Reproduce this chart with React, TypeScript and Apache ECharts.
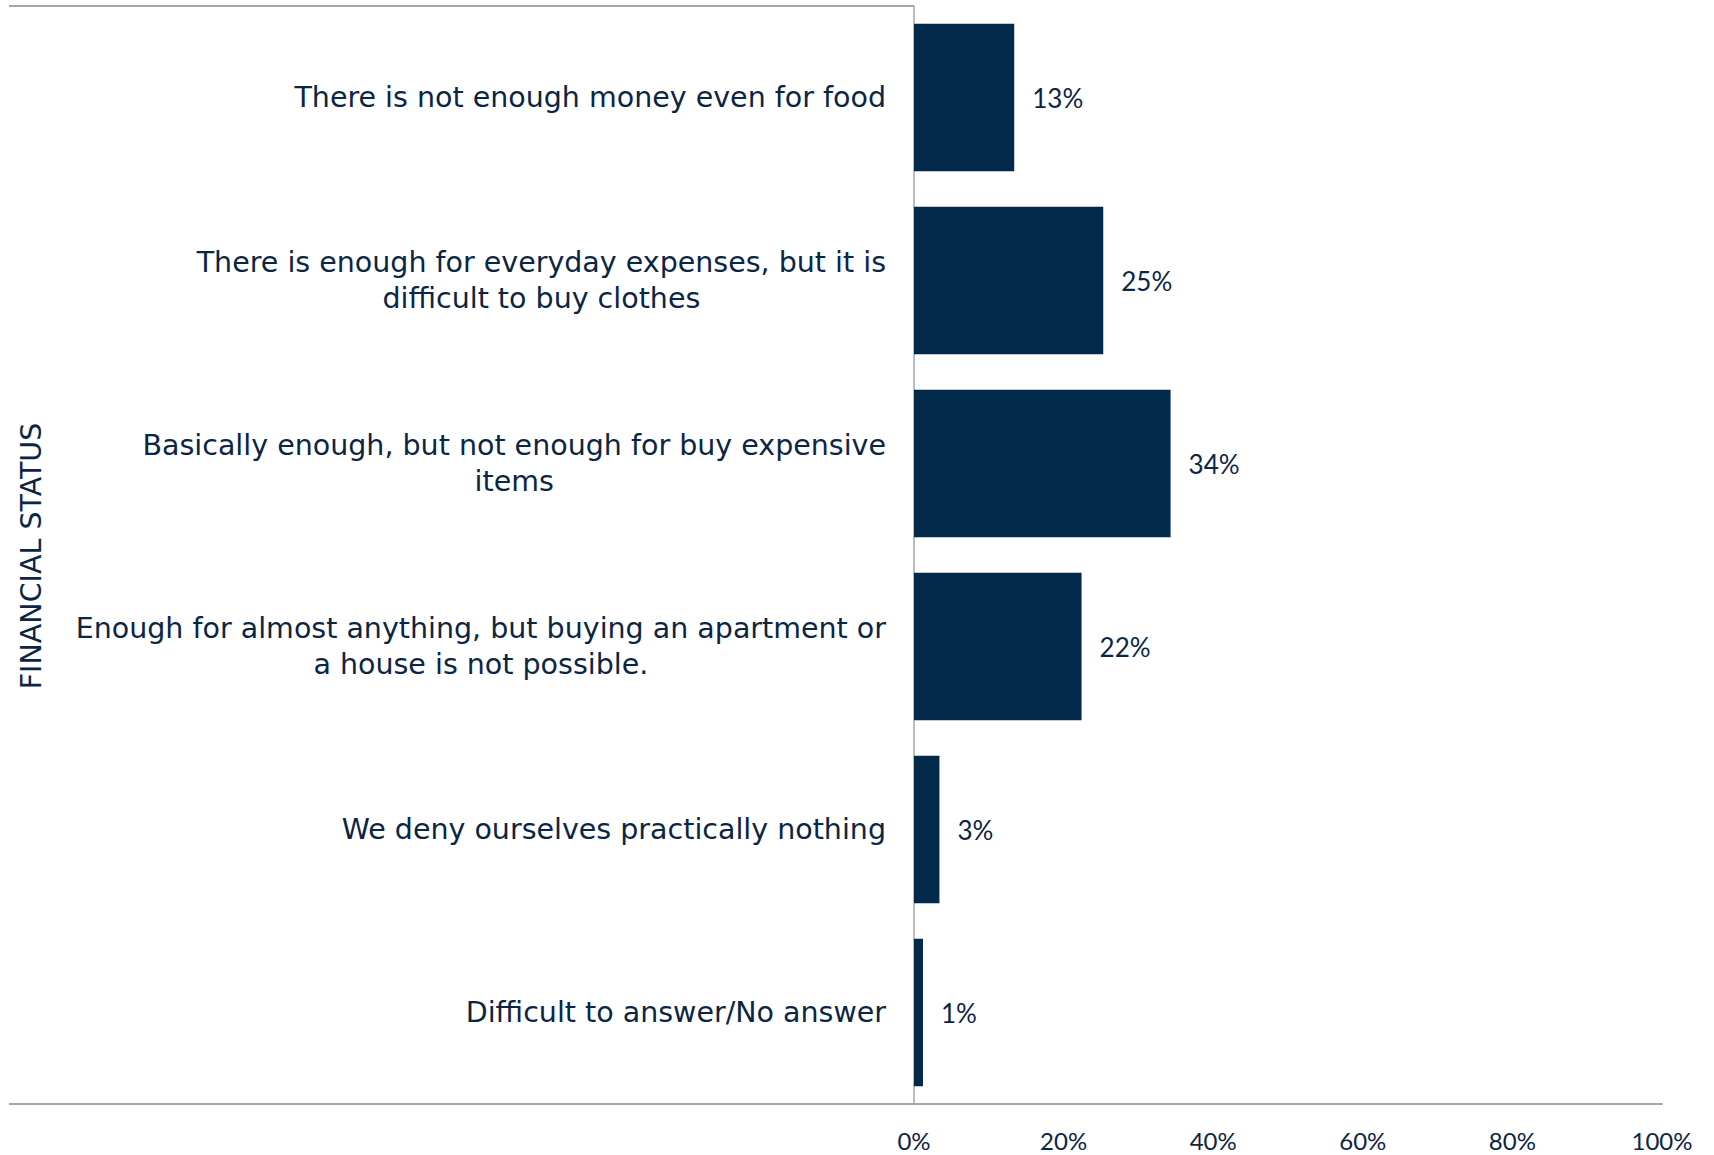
import React, { useEffect, useRef } from "react";
import * as echarts from "echarts";

const categories: string[] = [
  "There is not enough money even for food",
  "There is enough for everyday expenses, but it is\ndifficult to buy clothes",
  "Basically enough, but not enough for buy expensive\nitems",
  "Enough for almost anything, but buying an apartment or\na house is not possible.",
  "We deny ourselves practically nothing",
  "Difficult to answer/No answer",
];
const values: number[] = [13.4, 25.3, 34.3, 22.4, 3.4, 1.2];
const xTicks: number[] = [0, 20, 40, 60, 80, 100];
const groupLabel = "FINANCIAL STATUS";

const NAVY = "#02284a";
const TEXT = "#0b2545";
const GRAY = "#a6a6a6";
const FONT = "DejaVu Sans";
const NUMFONT = "Lato";

export default function App() {
  const ref = useRef<HTMLDivElement>(null);
  useEffect(() => {
    if (!ref.current) return;
    const chart = echarts.init(ref.current, undefined, { renderer: "svg" });
    const gridLeft = 914;
    const gridRight = 52;
    const gridTop = 6;
    const gridBottom = 51;
    chart.setOption({
      animation: false,
      backgroundColor: "#ffffff",
      grid: { left: gridLeft, right: gridRight, top: gridTop, bottom: gridBottom, containLabel: false },
      xAxis: {
        type: "value",
        min: 0,
        max: 100,
        interval: 20,
        axisLine: { show: true, lineStyle: { color: GRAY, width: 2 } },
        axisTick: { show: false },
        splitLine: { show: false },
        axisLabel: {
          margin: 24,
          color: TEXT,
          fontFamily: NUMFONT,
          fontSize: 24,
          formatter: (v: number) => (xTicks.includes(v) ? v + "%" : ""),
        },
      },
      yAxis: {
        type: "category",
        data: categories,
        inverse: true,
        axisLine: { show: true, lineStyle: { color: GRAY, width: 1.5 } },
        axisTick: { show: false },
        axisLabel: {
          margin: 28,
          align: "right",
          color: TEXT,
          fontFamily: FONT,
          fontSize: 28.5,
          lineHeight: 36,
          formatter: (v: string) =>
            v
              .split("\n")
              .map((l) => "{c|" + l + "}")
              .join("\n"),
          rich: {
            c: { align: "center", color: TEXT, fontFamily: FONT, fontSize: 28.5, lineHeight: 36 },
          },
        },
      },
      series: [
        {
          type: "bar",
          data: values,
          barCategoryGap: "19.5%",
          itemStyle: { color: NAVY },
          label: {
            show: true,
            position: "right",
            distance: 18,
            color: TEXT,
            fontFamily: NUMFONT,
            fontSize: 26,
            formatter: (p: any) => Math.round(p.value) + "%",
          },
        },
      ],
      graphic: [
        {
          type: "line",
          shape: { x1: 9, y1: 6, x2: gridLeft, y2: 6 },
          style: { stroke: GRAY, lineWidth: 2 },
        },
        {
          type: "line",
          shape: { x1: 9, y1: 1104, x2: gridLeft, y2: 1104 },
          style: { stroke: GRAY, lineWidth: 2 },
        },
        {
          type: "text",
          x: 31,
          y: 556,
          rotation: Math.PI / 2,
          style: {
            text: groupLabel,
            fill: TEXT,
            font: "28.5px " + FONT,
            textAlign: "center",
            textVerticalAlign: "middle",
          },
        },
      ],
    });
    return () => chart.dispose();
  }, []);
  return <div ref={ref} style={{ width: 1714, height: 1155, position: "absolute", left: 0, top: 0 }} />;
}
